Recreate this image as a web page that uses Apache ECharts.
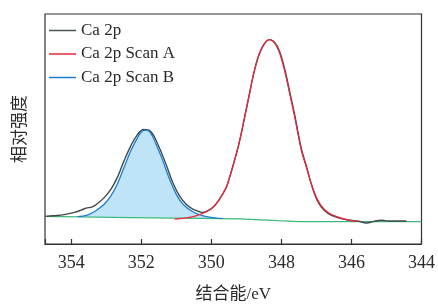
<!DOCTYPE html>
<html>
<head>
<meta charset="utf-8">
<script src="https://cdn.jsdelivr.net/npm/echarts@6/dist/echarts.min.js"></script>
<style>
  html, body { margin: 0; padding: 0; background: #fff; }
  #chart { width: 438px; height: 308px; }
</style>
</head>
<body>
<div id="chart"></div>
<script>
// binding energy (eV) / relative intensity
const ca2p = [
  [354.74, 28], [354.5, 28.6], [354.2, 29.7], [353.91, 32], [353.72, 34.3],
  [353.58, 36.3], [353.4, 37.7], [353.25, 41], [353.06, 47], [352.87, 55.3],
  [352.69, 67], [352.5, 83.7], [352.31, 98.7], [352.12, 110.3], [351.93, 116],
  [351.74, 114.3], [351.52, 100.3], [351.29, 80.3], [351.1, 62], [350.91, 48.7],
  [350.72, 40.3], [350.53, 35.3], [350.34, 32.7], [350.25, 32], [350.15, 32.7],
  [349.96, 37], [349.77, 45.3], [349.58, 57], [349.5, 65], [349.36, 82],
  [349.21, 102], [349.07, 125], [348.93, 149], [348.74, 180], [348.55, 199],
  [348.34, 207], [348.13, 201], [347.94, 182], [347.75, 152], [347.61, 129],
  [347.52, 112], [347.42, 95], [347.28, 78], [347.14, 60], [347.0, 46],
  [346.86, 37.5], [346.67, 31], [346.42, 27], [346.09, 24.3], [345.8, 23],
  [345.57, 21.3], [345.38, 22.7], [345.14, 24], [344.95, 23.3], [344.43, 23.3]
]

const scanA = [
  [351.05, 25.3], [350.62, 27], [350.34, 29.7], [350.15, 32.7], [349.96, 37],
  [349.77, 45.3], [349.58, 57], [349.5, 65], [349.36, 82], [349.21, 102],
  [349.07, 125], [348.93, 149], [348.74, 180], [348.55, 199], [348.34, 207],
  [348.13, 200], [347.94, 180], [347.75, 150], [347.61, 127], [347.52, 110.3],
  [347.42, 93.7], [347.28, 77], [347.14, 60.3], [347.0, 47], [346.86, 38.7],
  [346.67, 32], [346.42, 27.7], [346.09, 24.3], [345.8, 23]
]

const scanB = [
  [353.82, 27.7], [353.54, 29.3], [353.3, 33.7], [353.06, 40.3], [352.87, 48.7],
  [352.69, 60.3], [352.5, 77], [352.31, 93.7], [352.12, 107], [352.02, 112.5],
  [351.91, 115.3], [351.76, 113.7], [351.57, 100.3], [351.38, 83.7], [351.19, 65.3],
  [351.0, 50.3], [350.81, 40.3], [350.53, 32.7], [350.25, 28.7], [349.96, 26.7],
  [349.68, 25.7]
]

const background = [
  [354.75, 28], [352.3, 26.8], [350.3, 26], [349.2, 25.5], [348.1, 23.6],
  [347.5, 22.7], [344.0, 22.7]
]

const seriesNames = ['Ca 2p', 'Ca 2p Scan A', 'Ca 2p Scan B']
const seriesColors = ['#4a5454', '#e8283c', '#1a7fd0']
const xTicks = [344, 346, 348, 350, 352, 354]

const latin = 'Liberation Serif, Noto Sans CJK SC, serif'
const textColor = '#2a2a2a'

const chart = echarts.init(document.getElementById('chart'))

// fill between Scan B and the background line
function renderFill(params, api) {
  const lo = scanB[scanB.length - 1][0]
  const hi = scanB[0][0]
  const pts = scanB.map(p => api.coord(p))
  background
    .filter(p => p[0] > lo && p[0] < hi)
    .reverse()
    .forEach(p => pts.push(api.coord(p)))
  return {
    type: 'polygon',
    shape: { points: pts },
    style: { fill: '#bfe3f7' }
  }
}

const option = {
  animation: false,
  grid: {
    left: 45, right: 14, top: 14, bottom: 61,
    show: true, borderColor: '#333', borderWidth: 1.2
  },
  legend: {
    data: seriesNames.map((n, i) => ({ name: n, itemStyle: { color: seriesColors[i] } })),
    orient: 'vertical',
    left: 49,
    top: 22,
    padding: 0,
    icon: 'rect',
    itemWidth: 27,
    itemHeight: 1.5,
    itemGap: 6.5,
    textStyle: { fontFamily: latin, fontSize: 17, color: textColor, lineHeight: 17 }
  },
  xAxis: {
    type: 'value',
    min: 344,
    max: 354.75,
    interval: 2,
    inverse: true,
    name: '结合能/eV',
    nameLocation: 'middle',
    nameGap: 42,
    nameTextStyle: { fontFamily: latin, fontSize: 17, color: textColor },
    axisLine: { show: true, lineStyle: { color: '#333', width: 1.2 } },
    axisTick: { show: true, inside: true, length: 5, lineStyle: { color: '#333', width: 1.2 } },
    axisLabel: {
      margin: 10,
      fontFamily: latin,
      fontSize: 18,
      color: textColor,
      formatter: v => (xTicks.includes(v) ? String(v) : '')
    },
    splitLine: { show: false }
  },
  yAxis: {
    type: 'value',
    min: 0,
    max: 233,
    name: '相对强度',
    nameLocation: 'middle',
    nameGap: 16,
    nameTextStyle: { fontFamily: latin, fontSize: 17, color: textColor },
    axisLine: { show: false },
    axisTick: { show: false },
    axisLabel: { show: false },
    splitLine: { show: false }
  },
  series: [
    {
      name: 'fill',
      type: 'custom',
      renderItem: renderFill,
      data: [[351, 50]],
      silent: true,
      z: 1
    },
    {
      name: 'background',
      type: 'line',
      data: background,
      symbol: 'none',
      lineStyle: { color: '#3dba7a', width: 1.3 },
      z: 2
    },
    {
      name: seriesNames[0],
      type: 'line',
      data: ca2p,
      symbol: 'none',
      smooth: 0.4,
      color: seriesColors[0],
      lineStyle: { color: '#3e4848', width: 1.4 },
      z: 3
    },
    {
      name: seriesNames[2],
      type: 'line',
      data: scanB,
      symbol: 'none',
      smooth: 0.4,
      color: seriesColors[2],
      lineStyle: { color: seriesColors[2], width: 1.3 },
      z: 4
    },
    {
      name: seriesNames[1],
      type: 'line',
      data: scanA,
      symbol: 'none',
      smooth: 0.4,
      color: seriesColors[1],
      lineStyle: { color: seriesColors[1], width: 1.3 },
      z: 5
    }
  ]
}

chart.setOption(option)
</script>
</body>
</html>
